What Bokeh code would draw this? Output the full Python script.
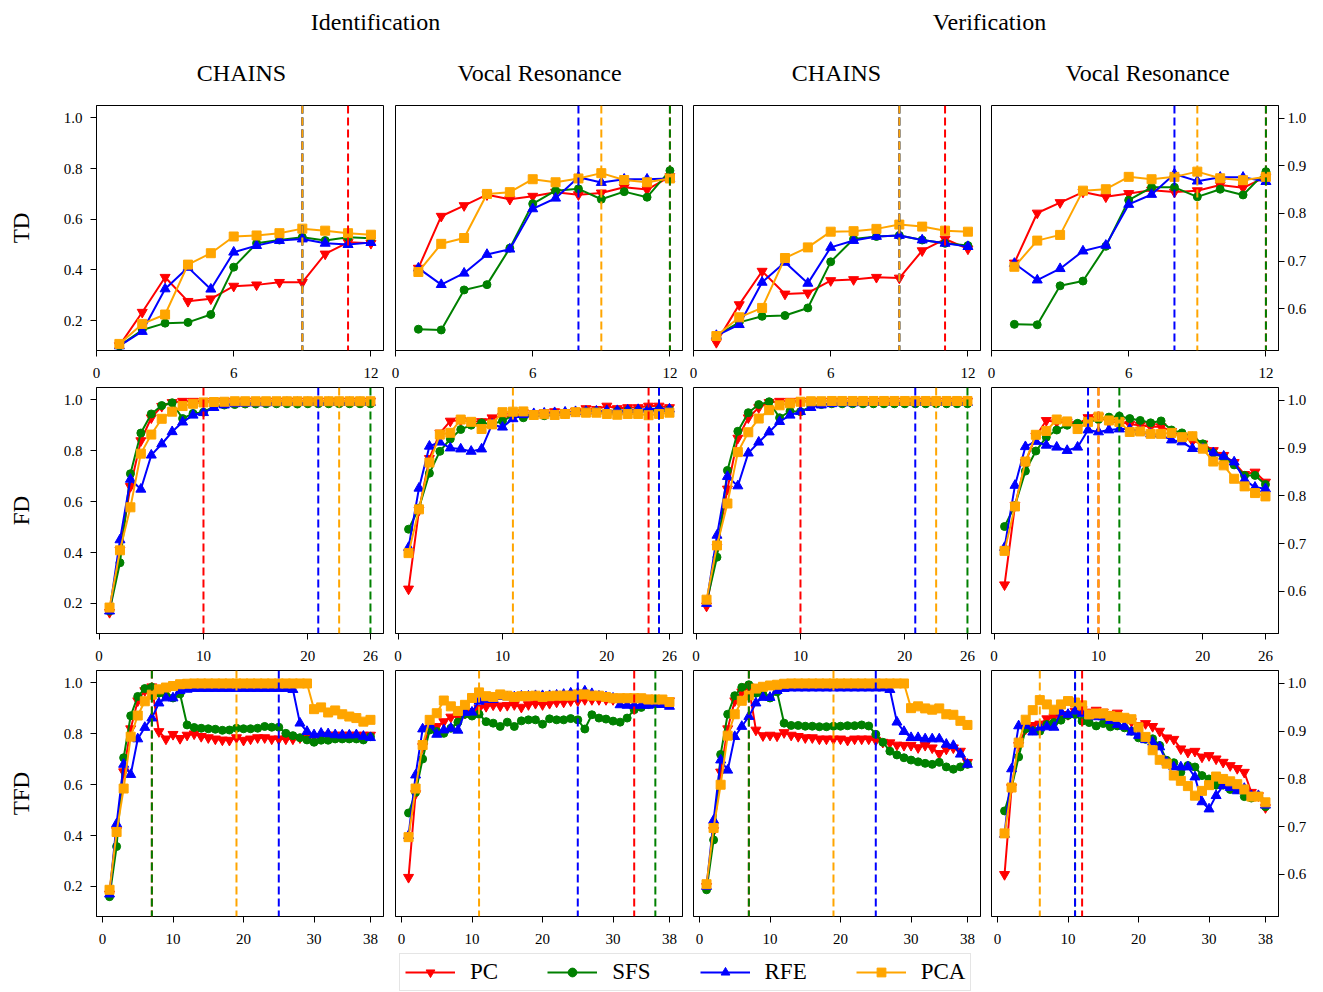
from bokeh.plotting import figure
from bokeh.layouts import column, row
from bokeh.models import Range1d, FixedTicker, Span, Legend, LegendItem, Label
from bokeh.embed import file_html
from bokeh.resources import INLINE

# ---------------- data ----------------
methods = ["PC", "SFS", "RFE", "PCA"]
row_names = ["TD", "FD", "TFD"]
group_titles = ["Identification", "Verification"]
col_titles = ["CHAINS", "Vocal Resonance", "CHAINS", "Vocal Resonance"]

x_td = list(range(1, 13))
x_fd = list(range(1, 27))
x_tfd = list(range(1, 39))

x_ticks_td = [0, 6, 12]
x_ticks_fd = [0, 10, 20, 26]
x_ticks_tfd = [0, 10, 20, 30, 38]
y_ticks_left = [0.2, 0.4, 0.6, 0.8, 1.0]
y_labels_left = ["0.2", "0.4", "0.6", "0.8", "1.0"]
y_ticks_right = [0.6, 0.7, 0.8, 0.9, 1.0]
y_labels_right = ["0.6", "0.7", "0.8", "0.9", "1.0"]

# ---- TD ----
td_id_ch_pc = [0.101, 0.233, 0.371, 0.276, 0.286, 0.336, 0.341, 0.351, 0.351, 0.463, 0.509, 0.505]
td_id_ch_sfs = [0.100, 0.163, 0.190, 0.193, 0.224, 0.411, 0.505, 0.518, 0.529, 0.516, 0.529, 0.525]
td_id_ch_rfe = [0.100, 0.157, 0.325, 0.410, 0.324, 0.470, 0.496, 0.516, 0.522, 0.505, 0.500, 0.508]
td_id_ch_pca = [0.108, 0.187, 0.224, 0.421, 0.466, 0.532, 0.536, 0.545, 0.563, 0.555, 0.545, 0.539]
td_id_ch_best = [11, 9, 9, 9]

td_id_vr_pc = [0.407, 0.612, 0.654, 0.697, 0.679, 0.691, 0.707, 0.697, 0.704, 0.726, 0.717, 0.768]
td_id_vr_sfs = [0.166, 0.163, 0.321, 0.342, 0.486, 0.661, 0.713, 0.720, 0.679, 0.709, 0.687, 0.792]
td_id_vr_rfe = [0.407, 0.342, 0.387, 0.461, 0.482, 0.641, 0.683, 0.766, 0.745, 0.758, 0.758, 0.761]
td_id_vr_pca = [0.392, 0.503, 0.526, 0.700, 0.707, 0.758, 0.746, 0.761, 0.782, 0.755, 0.746, 0.761]
td_id_vr_best = [12, 12, 8, 9]

td_ve_ch_pc = [0.114, 0.263, 0.395, 0.305, 0.309, 0.358, 0.362, 0.371, 0.368, 0.476, 0.522, 0.483]
td_ve_ch_sfs = [0.141, 0.193, 0.217, 0.220, 0.250, 0.432, 0.522, 0.532, 0.536, 0.518, 0.505, 0.496]
td_ve_ch_rfe = [0.141, 0.184, 0.351, 0.430, 0.347, 0.489, 0.516, 0.532, 0.536, 0.518, 0.505, 0.492]
td_ve_ch_pca = [0.139, 0.213, 0.250, 0.447, 0.489, 0.551, 0.553, 0.562, 0.579, 0.571, 0.555, 0.551]
td_ve_ch_best = [11, 9, 9, 9]

td_ve_vr_pc = [0.696, 0.801, 0.823, 0.845, 0.835, 0.842, 0.849, 0.845, 0.848, 0.860, 0.854, 0.877]
td_ve_vr_sfs = [0.567, 0.566, 0.648, 0.658, 0.731, 0.828, 0.855, 0.855, 0.835, 0.851, 0.839, 0.888]
td_ve_vr_rfe = [0.695, 0.660, 0.684, 0.721, 0.733, 0.819, 0.840, 0.883, 0.868, 0.876, 0.876, 0.867]
td_ve_vr_pca = [0.688, 0.743, 0.755, 0.848, 0.851, 0.877, 0.872, 0.877, 0.888, 0.874, 0.870, 0.877]
td_ve_vr_best = [12, 12, 8, 9]

# ---- FD ----
fd_id_ch_pc = [0.165, 0.410, 0.660, 0.840, 0.930, 0.975, 0.990, 0.995, 0.995, 0.995, 0.995, 0.995, 0.993,
               0.995, 0.995, 0.995, 0.995, 0.995, 0.995, 0.995, 0.995, 0.995, 0.995, 0.995, 0.995, 0.995]
fd_id_ch_sfs = [0.170, 0.360, 0.710, 0.870, 0.945, 0.978, 0.989, 0.927, 0.947, 0.952, 0.975, 0.980, 0.982,
                0.984, 0.984, 0.985, 0.985, 0.985, 0.984, 0.985, 0.985, 0.985, 0.985, 0.985, 0.985, 0.985]
fd_id_ch_rfe = [0.170, 0.450, 0.688, 0.649, 0.783, 0.827, 0.875, 0.913, 0.940, 0.950, 0.970, 0.980, 0.985,
                0.987, 0.988, 0.988, 0.989, 0.990, 0.990, 0.990, 0.990, 0.990, 0.990, 0.990, 0.990, 0.990]
fd_id_ch_pca = [0.184, 0.409, 0.578, 0.789, 0.864, 0.926, 0.954, 0.976, 0.985, 0.990, 0.992, 0.993, 0.995,
                0.995, 0.995, 0.995, 0.995, 0.995, 0.995, 0.995, 0.995, 0.995, 0.995, 0.995, 0.995, 0.995]
fd_id_ch_best = [10, 26, 21, 23]

fd_id_vr_pc = [0.257, 0.567, 0.770, 0.870, 0.917, 0.920, 0.915, 0.915, 0.930, 0.935, 0.935, 0.950, 0.946,
               0.950, 0.954, 0.950, 0.956, 0.966, 0.963, 0.976, 0.966, 0.970, 0.970, 0.976, 0.976, 0.970]
fd_id_vr_sfs = [0.492, 0.575, 0.712, 0.798, 0.847, 0.884, 0.901, 0.910, 0.905, 0.917, 0.940, 0.930, 0.942,
                0.938, 0.942, 0.948, 0.954, 0.955, 0.956, 0.952, 0.956, 0.958, 0.958, 0.960, 0.962, 0.962]
fd_id_vr_rfe = [0.420, 0.653, 0.818, 0.834, 0.811, 0.807, 0.798, 0.807, 0.904, 0.893, 0.926, 0.942, 0.946,
                0.948, 0.950, 0.952, 0.954, 0.955, 0.956, 0.958, 0.958, 0.960, 0.962, 0.964, 0.966, 0.964]
fd_id_vr_pca = [0.398, 0.570, 0.754, 0.864, 0.871, 0.923, 0.914, 0.886, 0.904, 0.952, 0.954, 0.955, 0.941,
                0.944, 0.941, 0.945, 0.952, 0.950, 0.950, 0.945, 0.942, 0.945, 0.945, 0.940, 0.945, 0.950]
fd_id_vr_best = [24, 25, 25, 11]

fd_ve_ch_pc = [0.190, 0.420, 0.650, 0.850, 0.930, 0.970, 0.990, 0.995, 0.995, 0.995, 0.995, 0.995, 0.995,
               0.995, 0.995, 0.995, 0.995, 0.995, 0.995, 0.995, 0.995, 0.995, 0.995, 0.995, 0.995, 0.995]
fd_ve_ch_sfs = [0.204, 0.382, 0.723, 0.877, 0.950, 0.982, 0.993, 0.930, 0.956, 0.954, 0.975, 0.982, 0.985,
                0.985, 0.985, 0.985, 0.985, 0.985, 0.985, 0.985, 0.985, 0.985, 0.985, 0.985, 0.985, 0.985]
fd_ve_ch_rfe = [0.200, 0.468, 0.699, 0.662, 0.791, 0.834, 0.874, 0.915, 0.940, 0.954, 0.970, 0.980, 0.985,
                0.988, 0.988, 0.989, 0.990, 0.990, 0.990, 0.990, 0.990, 0.990, 0.990, 0.990, 0.990, 0.990]
fd_ve_ch_pca = [0.215, 0.428, 0.593, 0.795, 0.873, 0.927, 0.960, 0.979, 0.987, 0.993, 0.995, 0.995, 0.996,
                0.996, 0.996, 0.996, 0.996, 0.996, 0.996, 0.996, 0.996, 0.996, 0.996, 0.996, 0.996, 0.996]
fd_ve_ch_best = [10, 26, 21, 23]

fd_ve_vr_pc = [0.614, 0.780, 0.870, 0.925, 0.958, 0.955, 0.955, 0.950, 0.964, 0.966, 0.955, 0.955, 0.950,
               0.948, 0.945, 0.945, 0.935, 0.925, 0.915, 0.909, 0.895, 0.885, 0.870, 0.845, 0.850, 0.829]
fd_ve_vr_sfs = [0.736, 0.780, 0.852, 0.894, 0.923, 0.938, 0.948, 0.952, 0.955, 0.960, 0.965, 0.967, 0.962,
                0.958, 0.953, 0.957, 0.938, 0.932, 0.925, 0.909, 0.890, 0.880, 0.865, 0.843, 0.843, 0.824]
fd_ve_vr_rfe = [0.692, 0.822, 0.903, 0.914, 0.906, 0.902, 0.895, 0.902, 0.938, 0.934, 0.938, 0.940, 0.940,
                0.935, 0.930, 0.928, 0.917, 0.913, 0.899, 0.899, 0.890, 0.883, 0.871, 0.834, 0.818, 0.815]
fd_ve_vr_pca = [0.685, 0.778, 0.872, 0.928, 0.936, 0.960, 0.956, 0.940, 0.955, 0.966, 0.958, 0.955, 0.934,
                0.935, 0.930, 0.930, 0.932, 0.923, 0.925, 0.899, 0.872, 0.864, 0.836, 0.820, 0.806, 0.799]
fd_ve_vr_best = [10, 12, 9, 10]

# ---- TFD ----
tfd_id_ch_pc = [0.170, 0.420, 0.651, 0.820, 0.930, 0.970, 0.985, 0.809, 0.780, 0.798, 0.782, 0.795, 0.800,
                0.790, 0.785, 0.780, 0.776, 0.775, 0.785, 0.775, 0.780, 0.785, 0.785, 0.780, 0.780, 0.780,
                0.780, 0.785, 0.790, 0.790, 0.790, 0.795, 0.795, 0.795, 0.795, 0.795, 0.795, 0.795]
tfd_id_ch_sfs = [0.160, 0.357, 0.706, 0.871, 0.947, 0.978, 0.983, 0.960, 0.950, 0.941, 0.957, 0.835, 0.825,
                 0.822, 0.820, 0.818, 0.814, 0.815, 0.822, 0.820, 0.820, 0.822, 0.829, 0.826, 0.826, 0.802,
                 0.793, 0.785, 0.776, 0.767, 0.775, 0.775, 0.780, 0.780, 0.780, 0.780, 0.776, 0.789]
tfd_id_ch_rfe = [0.170, 0.446, 0.680, 0.640, 0.780, 0.825, 0.862, 0.921, 0.941, 0.941, 0.970, 0.975, 0.978,
                 0.978, 0.978, 0.978, 0.978, 0.978, 0.978, 0.978, 0.978, 0.978, 0.978, 0.978, 0.978, 0.978,
                 0.974, 0.842, 0.809, 0.796, 0.802, 0.800, 0.796, 0.795, 0.795, 0.796, 0.790, 0.785]
tfd_id_ch_pca = [0.187, 0.414, 0.585, 0.789, 0.872, 0.928, 0.954, 0.975, 0.982, 0.988, 0.995, 0.997, 0.998,
                 0.998, 0.998, 0.998, 0.998, 0.998, 0.998, 0.998, 0.998, 0.998, 0.998, 0.998, 0.998, 0.998,
                 0.998, 0.998, 0.998, 0.897, 0.904, 0.884, 0.892, 0.877, 0.868, 0.862, 0.848, 0.855]
tfd_id_ch_best = [7, 7, 25, 19]

tfd_id_vr_pc = [0.236, 0.565, 0.750, 0.822, 0.829, 0.848, 0.866, 0.868, 0.881, 0.888, 0.900, 0.908, 0.914,
                0.910, 0.912, 0.915, 0.905, 0.915, 0.920, 0.915, 0.920, 0.925, 0.925, 0.930, 0.930, 0.935,
                0.935, 0.935, 0.935, 0.935, 0.940, 0.940, 0.935, 0.940, 0.940, 0.935, 0.930, 0.930]
tfd_id_vr_sfs = [0.489, 0.570, 0.701, 0.815, 0.809, 0.802, 0.822, 0.846, 0.877, 0.870, 0.877, 0.848, 0.842,
                 0.829, 0.846, 0.829, 0.851, 0.855, 0.855, 0.838, 0.859, 0.855, 0.855, 0.860, 0.855, 0.819,
                 0.875, 0.862, 0.858, 0.850, 0.846, 0.862, 0.895, 0.904, 0.915, 0.920, 0.925, 0.921]
tfd_id_vr_rfe = [0.400, 0.638, 0.819, 0.835, 0.798, 0.815, 0.822, 0.814, 0.884, 0.885, 0.928, 0.935, 0.935,
                 0.947, 0.945, 0.945, 0.948, 0.948, 0.950, 0.950, 0.950, 0.952, 0.955, 0.960, 0.960, 0.968,
                 0.958, 0.948, 0.945, 0.940, 0.914, 0.912, 0.912, 0.912, 0.912, 0.915, 0.915, 0.908]
tfd_id_vr_pca = [0.394, 0.585, 0.756, 0.855, 0.881, 0.931, 0.908, 0.890, 0.914, 0.941, 0.963, 0.948, 0.945,
                 0.955, 0.950, 0.945, 0.948, 0.948, 0.950, 0.945, 0.948, 0.950, 0.950, 0.950, 0.955, 0.955,
                 0.950, 0.950, 0.945, 0.940, 0.940, 0.940, 0.940, 0.940, 0.935, 0.935, 0.935, 0.925]
tfd_id_vr_best = [33, 36, 25, 11]

tfd_ve_ch_pc = [0.200, 0.420, 0.650, 0.820, 0.930, 0.965, 0.985, 0.815, 0.793, 0.795, 0.792, 0.805, 0.795,
                0.790, 0.785, 0.785, 0.780, 0.780, 0.780, 0.780, 0.775, 0.780, 0.780, 0.780, 0.775, 0.767,
                0.765, 0.756, 0.755, 0.755, 0.746, 0.755, 0.745, 0.723, 0.740, 0.745, 0.732, 0.688]
tfd_ve_ch_sfs = [0.187, 0.383, 0.719, 0.877, 0.950, 0.983, 0.993, 0.960, 0.955, 0.941, 0.965, 0.842, 0.833,
                 0.833, 0.830, 0.830, 0.828, 0.828, 0.830, 0.830, 0.832, 0.832, 0.835, 0.831, 0.798, 0.767,
                 0.732, 0.717, 0.706, 0.697, 0.690, 0.684, 0.680, 0.688, 0.670, 0.661, 0.670, 0.680]
tfd_ve_ch_rfe = [0.200, 0.460, 0.697, 0.657, 0.789, 0.829, 0.868, 0.921, 0.943, 0.943, 0.970, 0.978, 0.980,
                 0.980, 0.980, 0.980, 0.980, 0.980, 0.980, 0.980, 0.980, 0.980, 0.980, 0.980, 0.980, 0.980,
                 0.974, 0.846, 0.809, 0.785, 0.785, 0.780, 0.780, 0.780, 0.759, 0.754, 0.720, 0.680]
tfd_ve_ch_pca = [0.209, 0.430, 0.600, 0.793, 0.877, 0.930, 0.951, 0.978, 0.985, 0.990, 0.993, 0.997, 0.998,
                 0.998, 0.998, 0.998, 0.998, 0.998, 0.998, 0.998, 0.998, 0.998, 0.998, 0.998, 0.998, 0.998,
                 0.998, 0.998, 0.998, 0.901, 0.908, 0.900, 0.895, 0.900, 0.877, 0.875, 0.851, 0.835]
tfd_ve_ch_best = [7, 7, 25, 19]

tfd_ve_vr_pc = [0.600, 0.782, 0.870, 0.905, 0.912, 0.915, 0.926, 0.930, 0.935, 0.935, 0.942, 0.945, 0.940,
                0.944, 0.940, 0.935, 0.938, 0.925, 0.920, 0.912, 0.916, 0.910, 0.900, 0.886, 0.883, 0.863,
                0.856, 0.858, 0.846, 0.849, 0.842, 0.835, 0.828, 0.822, 0.814, 0.772, 0.765, 0.740]
tfd_ve_vr_sfs = [0.733, 0.782, 0.846, 0.905, 0.901, 0.900, 0.914, 0.918, 0.923, 0.933, 0.935, 0.921, 0.918,
                 0.911, 0.916, 0.909, 0.911, 0.907, 0.900, 0.886, 0.883, 0.884, 0.870, 0.839, 0.834, 0.814,
                 0.828, 0.825, 0.807, 0.800, 0.787, 0.787, 0.778, 0.778, 0.763, 0.760, 0.765, 0.742]
tfd_ve_vr_rfe = [0.684, 0.821, 0.911, 0.912, 0.898, 0.907, 0.909, 0.908, 0.940, 0.935, 0.942, 0.937, 0.932,
                 0.930, 0.930, 0.922, 0.914, 0.910, 0.898, 0.891, 0.882, 0.877, 0.867, 0.835, 0.825, 0.825,
                 0.825, 0.804, 0.752, 0.737, 0.765, 0.786, 0.782, 0.775, 0.780, 0.765, 0.765, 0.745]
tfd_ve_vr_pca = [0.686, 0.782, 0.876, 0.924, 0.944, 0.965, 0.956, 0.945, 0.956, 0.963, 0.960, 0.954, 0.935,
                 0.937, 0.937, 0.932, 0.930, 0.928, 0.925, 0.908, 0.888, 0.860, 0.840, 0.832, 0.807, 0.796,
                 0.785, 0.765, 0.775, 0.787, 0.805, 0.800, 0.795, 0.789, 0.778, 0.763, 0.763, 0.751]
tfd_ve_vr_best = [12, 11, 11, 6]

# ---------------- styling ----------------
FONT = "Liberation Serif"
colors = ["red", "green", "blue", "orange"]
markers = ["inverted_triangle", "circle", "triangle", "square"]
msizes = [10, 8, 10, 9]

panels = [
    [(x_td, [td_id_ch_pc, td_id_ch_sfs, td_id_ch_rfe, td_id_ch_pca], td_id_ch_best),
     (x_td, [td_id_vr_pc, td_id_vr_sfs, td_id_vr_rfe, td_id_vr_pca], td_id_vr_best),
     (x_td, [td_ve_ch_pc, td_ve_ch_sfs, td_ve_ch_rfe, td_ve_ch_pca], td_ve_ch_best),
     (x_td, [td_ve_vr_pc, td_ve_vr_sfs, td_ve_vr_rfe, td_ve_vr_pca], td_ve_vr_best)],
    [(x_fd, [fd_id_ch_pc, fd_id_ch_sfs, fd_id_ch_rfe, fd_id_ch_pca], fd_id_ch_best),
     (x_fd, [fd_id_vr_pc, fd_id_vr_sfs, fd_id_vr_rfe, fd_id_vr_pca], fd_id_vr_best),
     (x_fd, [fd_ve_ch_pc, fd_ve_ch_sfs, fd_ve_ch_rfe, fd_ve_ch_pca], fd_ve_ch_best),
     (x_fd, [fd_ve_vr_pc, fd_ve_vr_sfs, fd_ve_vr_rfe, fd_ve_vr_pca], fd_ve_vr_best)],
    [(x_tfd, [tfd_id_ch_pc, tfd_id_ch_sfs, tfd_id_ch_rfe, tfd_id_ch_pca], tfd_id_ch_best),
     (x_tfd, [tfd_id_vr_pc, tfd_id_vr_sfs, tfd_id_vr_rfe, tfd_id_vr_pca], tfd_id_vr_best),
     (x_tfd, [tfd_ve_ch_pc, tfd_ve_ch_sfs, tfd_ve_ch_rfe, tfd_ve_ch_pca], tfd_ve_ch_best),
     (x_tfd, [tfd_ve_vr_pc, tfd_ve_vr_sfs, tfd_ve_vr_rfe, tfd_ve_vr_pca], tfd_ve_vr_best)],
]
x_ticks_rows = [x_ticks_td, x_ticks_fd, x_ticks_tfd]
x_ranges = [Range1d(0, 12.55), Range1d(-0.25, 27.25), Range1d(-0.85, 39.85)]
y_left = Range1d(0.082, 1.049)
y_right = Range1d(0.512, 1.027)

col_widths = [389, 299, 298, 337]
col_bl = [96, 6, 5, 5]
col_br = [6, 6, 6, 45]
row_heights = [289, 283, 283]
row_bt = [10, 3, 3]
BOTTOM = 34


def style_axis(ax, ticks, labels, standoff):
    ax.ticker = FixedTicker(ticks=ticks)
    ax.major_label_overrides = {t: l for t, l in zip(ticks, labels)}
    ax.major_label_text_font = FONT
    ax.major_label_text_font_size = "15px"
    ax.major_label_text_color = "black"
    ax.axis_line_color = "black"
    ax.major_tick_line_color = "black"
    ax.major_tick_in = 0
    ax.major_tick_out = 6
    ax.minor_tick_in = 0
    ax.minor_tick_out = 0
    ax.major_label_standoff = standoff


rows = []
for r in range(3):
    figs = []
    for c in range(4):
        xs, series, best = panels[r][c]
        yloc = "left" if c == 0 else ("right" if c == 3 else None)
        p = figure(width=col_widths[c], height=row_heights[r],
                   x_range=x_ranges[r], y_range=(y_right if c == 3 else y_left),
                   toolbar_location=None, output_backend="svg",
                   x_axis_location="below", y_axis_location=yloc,
                   min_border_left=col_bl[c], min_border_right=col_br[c],
                   min_border_top=row_bt[r], min_border_bottom=BOTTOM,
                   outline_line_color="black", outline_line_width=1,
                   background_fill_color="white", border_fill_color="white")
        p.grid.visible = False
        style_axis(p.xaxis[0], x_ticks_rows[r], [str(t) for t in x_ticks_rows[r]], 11)
        if c == 0:
            style_axis(p.yaxis[0], y_ticks_left, y_labels_left, 8)
            p.yaxis[0].axis_label = row_names[r]
            p.yaxis[0].axis_label_text_font = FONT
            p.yaxis[0].axis_label_text_font_size = "23px"
            p.yaxis[0].axis_label_text_font_style = "normal"
            p.yaxis[0].axis_label_text_color = "black"
            p.yaxis[0].axis_label_standoff = 27
        elif c == 3:
            style_axis(p.yaxis[0], y_ticks_right, y_labels_right, 3)
        for k in range(4):
            p.line(xs, series[k], line_color=colors[k], line_width=2)
            p.scatter(xs, series[k], marker=markers[k], size=msizes[k],
                      fill_color=colors[k], line_color=colors[k])
        for k in range(4):
            p.add_layout(Span(location=best[k], dimension="height", line_color=colors[k],
                              line_width=2, line_dash="8 4"))
        figs.append(p)
    rows.append(row(*figs, spacing=0))

# ---------------- header ----------------
hdr = figure(width=1323, height=95, x_range=Range1d(0, 1323), y_range=Range1d(95, 0),
             toolbar_location=None, output_backend="svg", x_axis_location=None,
             y_axis_location=None, min_border=0, outline_line_color=None)
hdr.grid.visible = False
header_pos = [(375, 21), (989, 21)]
col_title_pos = [(241, 72), (539, 72), (836, 72), (1147, 72)]
for t, (x, y) in zip(group_titles, header_pos):
    hdr.add_layout(Label(x=x, y=y, text=t, text_align="center", text_baseline="middle",
                         text_font=FONT, text_font_size="24px", text_color="black"))
for t, (x, y) in zip(col_titles, col_title_pos):
    hdr.add_layout(Label(x=x, y=y, text=t, text_align="center", text_baseline="middle",
                         text_font=FONT, text_font_size="24px", text_color="black"))

# ---------------- legend ----------------
# legend samples reuse a data series, drawn outside this strip's (empty) view
lf = figure(width=1323, height=42, x_range=Range1d(100, 101), y_range=Range1d(100, 101),
            toolbar_location=None, output_backend="svg", x_axis_location=None,
            y_axis_location=None, min_border=0, outline_line_color=None)
lf.grid.visible = False
items = []
for k, name in enumerate(methods):
    lr = lf.line(x_td, td_id_ch_pc, line_color=colors[k], line_width=2)
    sr = lf.scatter(x_td, td_id_ch_pc, marker=markers[k], size=msizes[k],
                    fill_color=colors[k], line_color=colors[k])
    items.append(LegendItem(label=name, renderers=[lr, sr]))
legend = Legend(items=items, orientation="horizontal", location=(399, 1), margin=0,
                label_text_font=FONT, label_text_font_size="23px", label_text_color="black",
                glyph_width=50, glyph_height=22, label_height=22, label_standoff=15,
                spacing=49, padding=5, border_line_color="#cccccc", border_line_width=1,
                background_fill_color="white", background_fill_alpha=1.0)
lf.add_layout(legend)

layout = column(hdr, rows[0], rows[1], rows[2], lf, spacing=0)
open("out.html", "w").write(file_html(layout, INLINE))
